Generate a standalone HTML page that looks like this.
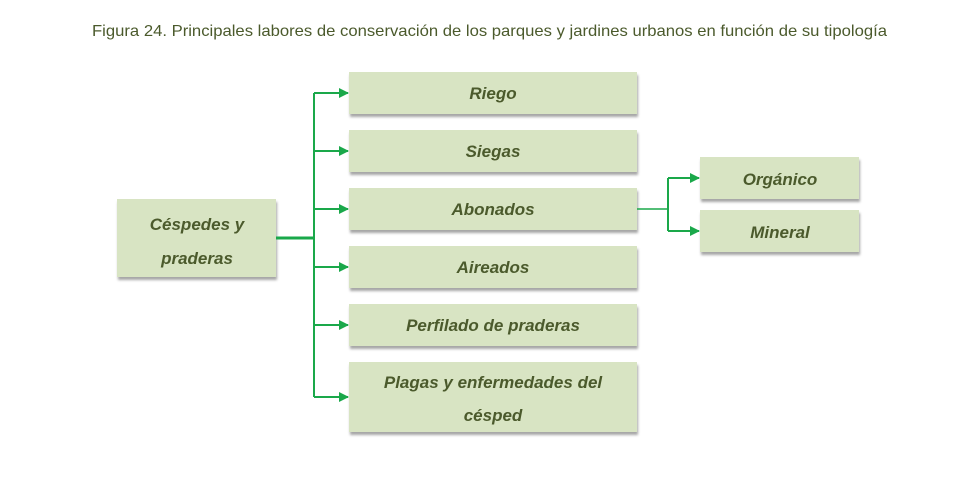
<!DOCTYPE html>
<html><head><meta charset="utf-8"><style>
html,body{margin:0;padding:0;background:#fff;}
svg{display:block;}
text{font-family:"Liberation Sans",Arial,sans-serif;}
.b{font-weight:bold;font-style:italic;font-size:17px;fill:#4b5a2c;}
</style></head><body>
<svg width="965" height="500" viewBox="0 0 965 500" xmlns="http://www.w3.org/2000/svg">
<defs>
<filter id="s" x="-5%" y="-10%" width="110%" height="130%"><feDropShadow dx="1" dy="3" stdDeviation="1.3" flood-color="#000" flood-opacity="0.35"/></filter>
<marker id="a" markerWidth="10" markerHeight="10" refX="9" refY="5" orient="auto" markerUnits="userSpaceOnUse"><path d="M0,0 L10,5 L0,10 z" fill="#1aa84a"/></marker>
</defs>
<text x="92" y="36" font-size="16" fill="#4b5a2c" textLength="795" lengthAdjust="spacingAndGlyphs">Figura 24. Principales labores de conservación de los parques y jardines urbanos en función de su tipología</text>
<g fill="#d8e4c3" filter="url(#s)">
<rect x="117" y="199" width="159" height="78"/>
<rect x="349" y="72" width="288" height="42"/>
<rect x="349" y="130" width="288" height="42"/>
<rect x="349" y="188" width="288" height="42"/>
<rect x="349" y="246" width="288" height="42"/>
<rect x="349" y="304" width="288" height="42"/>
<rect x="349" y="362" width="288" height="70"/>
<rect x="700" y="157" width="159" height="42"/>
<rect x="700" y="210" width="159" height="42"/>
</g>
<g stroke="#1aa84a" fill="none">
<path d="M276 238 H314" stroke-width="3"/>
<path d="M314 93 V397" stroke-width="2"/>
<path d="M314 93 H348" stroke-width="2" marker-end="url(#a)"/>
<path d="M314 151 H348" stroke-width="2" marker-end="url(#a)"/>
<path d="M314 209 H348" stroke-width="2" marker-end="url(#a)"/>
<path d="M314 267 H348" stroke-width="2" marker-end="url(#a)"/>
<path d="M314 325 H348" stroke-width="2" marker-end="url(#a)"/>
<path d="M314 397 H348" stroke-width="2" marker-end="url(#a)"/>
<path d="M637 209 H668" stroke-width="1.5"/>
<path d="M668 178 V231" stroke-width="2"/>
<path d="M668 178 H699" stroke-width="2" marker-end="url(#a)"/>
<path d="M668 231 H699" stroke-width="2" marker-end="url(#a)"/>
</g>
<g class="b" text-anchor="middle">
<text x="197" y="230">Céspedes y</text>
<text x="197" y="264">praderas</text>
<text x="493" y="99">Riego</text>
<text x="493" y="157">Siegas</text>
<text x="493" y="215">Abonados</text>
<text x="493" y="273">Aireados</text>
<text x="493" y="331">Perfilado de praderas</text>
<text x="493" y="388">Plagas y enfermedades del</text>
<text x="493" y="421">césped</text>
<text x="780" y="185">Orgánico</text>
<text x="780" y="238">Mineral</text>
</g>
</svg>
</body></html>
